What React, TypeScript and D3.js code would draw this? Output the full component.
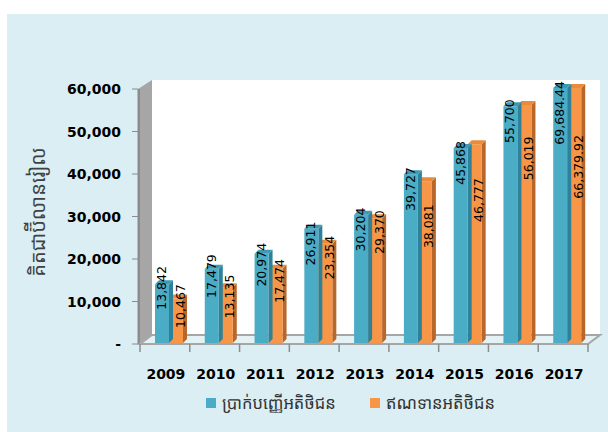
import React from "react";
import * as d3 from "d3";

const years = ["2009", "2010", "2011", "2012", "2013", "2014", "2015", "2016", "2017"];
const deposits = [13842, 17479, 20974, 26911, 30204, 39727, 45868, 55700, 69684.44];
const loans = [10467, 13135, 17474, 23354, 29370, 38081, 46777, 56019, 66379.92];
const depositLabels = ["13,842", "17,479", "20,974", "26,911", "30,204", "39,727", "45,868", "55,700", "69,684.44"];
const loanLabels = ["10,467", "13,135", "17,474", "23,354", "29,370", "38,081", "46,777", "56,019", "66,379.92"];
const yTicks = [0, 10000, 20000, 30000, 40000, 50000, 60000];
const seriesNames = ["ប្រាក់បញ្ញើអតិថិជន", "ឥណទានអតិថិជន"];
const yTitle = "គិតជាប៊ីលានរៀល";

const W = 608;
const H = 432;
const KHMER = "'Noto Sans Khmer', 'Khmer OS', 'Khmer OS System', 'Noto Sans', sans-serif";
const NUM = "'DejaVu Sans', Verdana, sans-serif";

const BLUE = { front: "#4BACC6", side: "#2E8199", top: "#3D9AB3" };
const ORANGE = { front: "#F79646", side: "#B9662A", top: "#E98A3C" };

function labelLen(s: string) {
  let n = 0;
  for (const c of s) n += c === "," || c === "." ? 4 : 7.95;
  return n;
}

export default function App() {
  const x0 = 140, x1 = 588;
  const yBase = 344, yTop = 89;
  const dx = 14, dy = -9; // wall depth
  const x = d3.scaleBand<string>().domain(years).range([x0, x1]).padding(0);
  const y = d3.scaleLinear().domain([0, 60000]).range([yBase, yTop]).clamp(true);
  const bw = x.bandwidth();
  const barW = 14;
  const bd = 4; // bar depth
  const barOff = 15;

  const bar = (xl: number, v: number, c: typeof BLUE, key: string) => {
    const top = y(v) - 1;
    const bottom = yBase - 1;
    return (
      <g key={key}>
        <polygon
          points={`${xl + barW},${top} ${xl + barW + bd},${top - bd} ${xl + barW + bd},${bottom - bd} ${xl + barW},${bottom}`}
          fill={c.side}
        />
        <polygon
          points={`${xl},${top} ${xl + bd},${top - bd} ${xl + barW + bd},${top - bd} ${xl + barW},${top}`}
          fill={c.top}
        />
        <rect x={xl} y={top} width={barW} height={bottom - top} fill={c.front} />
      </g>
    );
  };

  return (
    <svg width={W} height={H} style={{ position: "absolute", left: 0, top: 0 }}>
      <rect x={0} y={0} width={W} height={H} fill="#ffffff" />
      <rect x={7} y={14} width={W - 7} height={H - 14} fill="#DAEEF3" />
      {/* back wall */}
      <rect x={x0 + dx - 2} y={yTop + dy} width={600 - (x0 + dx - 2)} height={yBase + dy - (yTop + dy)} fill="#ffffff" />
      {/* left wall */}
      <polygon
        points={`${138},${yTop} ${138 + dx},${yTop + dy} ${138 + dx},${yBase + dy} ${138},${yBase}`}
        fill="#A6A6A6"
      />
      <line x1={139} y1={yTop} x2={139} y2={yBase} stroke="#8C8C8C" strokeWidth={2} />
      {/* floor */}
      <polygon
        points={`${x0},${yBase} ${x0 + 12},${yBase + dy} ${600},${yBase + dy} ${x1},${yBase}`}
        fill="#E4F2F6"
        stroke="#A6A6A6"
        strokeWidth={2}
      />
      {/* y axis */}
      <line x1={138} y1={yTop} x2={138} y2={yBase} stroke="#8C8C8C" strokeWidth={1} />
      {yTicks.map((t) => (
        <g key={t}>
          <line x1={132} x2={138} y1={y(t)} y2={y(t)} stroke="#8C8C8C" strokeWidth={1} />
          <text
            x={121}
            y={y(t)}
            dy="0.36em"
            textAnchor="end"
            fontFamily={NUM}
            fontWeight="bold"
            fontSize={14}
            fill="#000"
          >
            {t === 0 ? "-" : d3.format(",")(t)}
          </text>
        </g>
      ))}
      {/* x ticks */}
      {years.concat(["end"]).map((yr, i) => {
        const xx = x0 + i * bw;
        return <line key={"t" + i} x1={xx} x2={xx} y1={yBase} y2={yBase + 8} stroke="#8C8C8C" strokeWidth={1.5} />;
      })}
      {years.map((yr) => (
        <text
          key={"l" + yr}
          x={(x(yr) as number) + bw / 2 + 1}
          y={379}
          textAnchor="middle"
          fontFamily={NUM}
          fontWeight="bold"
          fontSize={14}
          fill="#000"
        >
          {yr}
        </text>
      ))}
      {/* bars */}
      {years.map((yr, i) => {
        const bx = (x(yr) as number) + barOff;
        return (
          <g key={"b" + yr}>
            {bar(bx + barW, loans[i], ORANGE, "o")}
            {bar(bx, deposits[i], BLUE, "b")}
          </g>
        );
      })}
      {/* data labels */}
      {years.map((yr, i) => {
        const bxl = x(yr) as number;
        const bTop = y(deposits[i]) - 1;
        const oTop = y(loans[i]) - 1;
        const bLen = labelLen(depositLabels[i]);
        const lowB = Math.max(0, (25000 - deposits[i]) / 1000);
        const bLabelTop = bTop - 7 - lowB;
        const oLabelTop =
          loans[i] > 35000 ? Math.max(oTop - 8, bLabelTop + 0.85 * bLen) : oTop - 8 - Math.max(0, (20000 - loans[i]) / 1500);
        return (
          <g key={"dl" + yr} fontFamily={NUM} fontSize={12.5} fill="#000">
            <text
              transform={`translate(${bxl + 21.5},${bLabelTop}) rotate(-90)`}
              textAnchor="end"
              dominantBaseline="central"
            >
              {depositLabels[i]}
            </text>
            <text
              transform={`translate(${bxl + 40},${oLabelTop}) rotate(-90)`}
              textAnchor="end"
              dominantBaseline="central"
            >
              {loanLabels[i]}
            </text>
          </g>
        );
      })}
      {/* y title */}
      <text
        transform={`translate(37,212) rotate(-90)`}
        textAnchor="middle"
        dominantBaseline="central"
        fontFamily={KHMER}
        fontSize={20}
        fill="#404040"
      >
        {yTitle}
      </text>
      {/* legend */}
      <rect x={206} y={398} width={10} height={10} fill={BLUE.front} />
      <text x={222} y={409} fontFamily={KHMER} fontSize={16.5} fill="#333">
        {seriesNames[0]}
      </text>
      <rect x={370} y={398} width={10} height={10} fill={ORANGE.front} />
      <text x={386} y={409} fontFamily={KHMER} fontSize={16.5} fill="#333">
        {seriesNames[1]}
      </text>
    </svg>
  );
}
